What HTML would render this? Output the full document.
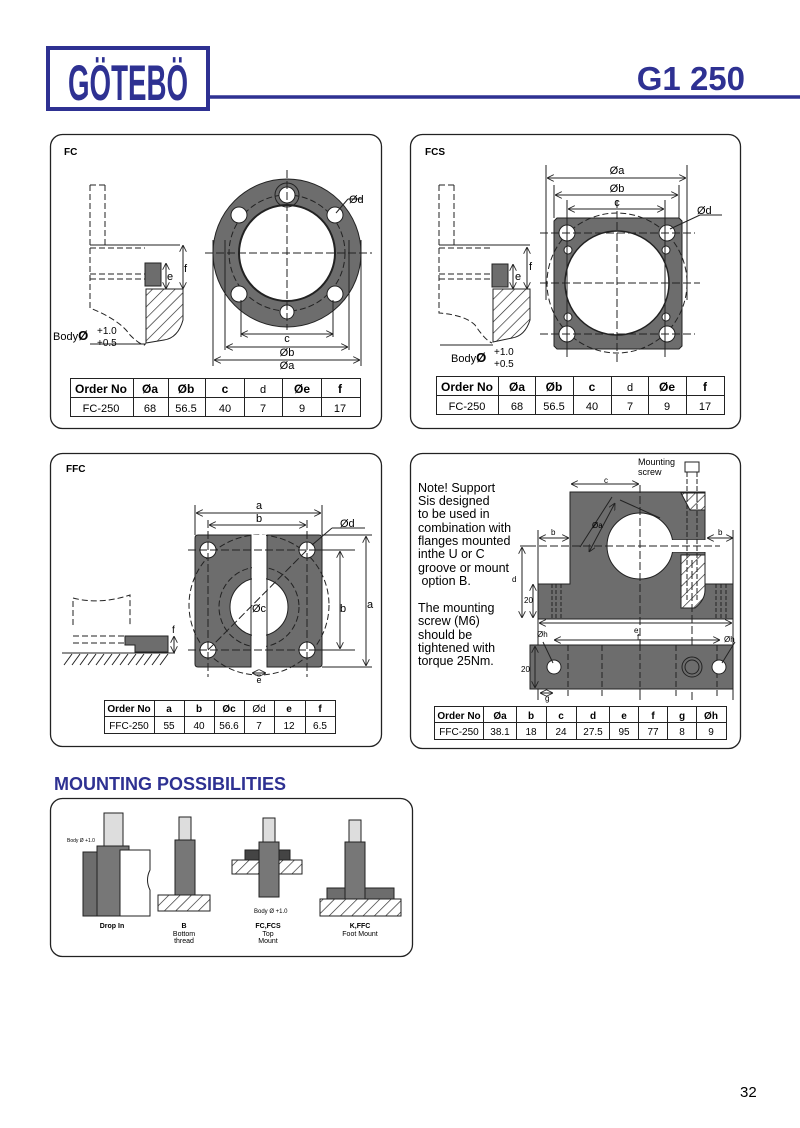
<!DOCTYPE html>
<html><head><meta charset="utf-8"><style>
html,body{margin:0;padding:0;background:#fff}
svg{display:block}
text{font-family:"Liberation Sans",Arial,sans-serif}
</style></head><body>
<svg width="800" height="1128" viewBox="0 0 800 1128" xmlns="http://www.w3.org/2000/svg">
<defs>
<pattern id="h" width="8" height="8" patternUnits="userSpaceOnUse" patternTransform="rotate(45)"><rect width="8" height="8" fill="#fff"/><line x1="0" y1="0" x2="0" y2="8" stroke="#222" stroke-width="1.3"/></pattern>
<marker id="a" viewBox="0 0 10 10" refX="10" refY="5" markerWidth="7" markerHeight="7" orient="auto-start-reverse"><path d="M0,0 L10,5 L0,10" fill="none" stroke="#222" stroke-width="1.2"/></marker>
</defs>
<!-- header -->
<rect x="48" y="48" width="160" height="61" fill="#fff" stroke="#2e3192" stroke-width="4"/>
<text x="128" y="100" text-anchor="middle" font-size="50" font-weight="bold" fill="#2e3192" textLength="120" lengthAdjust="spacingAndGlyphs">GÖTEBÖ</text>
<line x1="208" y1="97" x2="800" y2="97" stroke="#2e3192" stroke-width="3.5"/>
<text x="745" y="90" text-anchor="end" font-size="33" font-weight="bold" fill="#2e3192">G1 250</text>

<g fill="none" stroke="#222" stroke-width="1.3">
<rect x="50.5" y="134.5" width="331" height="294" rx="12"/>
<rect x="410.5" y="134.5" width="330" height="294" rx="12"/>
<rect x="50.5" y="453.5" width="331" height="293" rx="12"/>
<rect x="410.5" y="453.5" width="330" height="295" rx="12"/>
<rect x="50.5" y="798.5" width="362" height="158" rx="12"/>
</g>

<!-- FC -->
<text x="64" y="155" font-size="10" font-weight="bold">FC</text>
<g stroke="#222" stroke-width="1" fill="none" stroke-dasharray="6,3">
<path d="M90,185 V245 M105,185 V245 M90,185 H105"/>
<path d="M90,248 H145 M90,274 H145 M90,279 H145 M90,248 V308 Q120,320 130,335 Q140,345 145,345"/>
</g>
<rect x="145" y="263" width="16" height="23" fill="#6d6d6d" stroke="#222"/>
<path d="M146,289 H183 V320 Q178,338 164,340 L146,343 Z" fill="url(#h)" stroke="#222"/>
<line x1="90" y1="245" x2="180" y2="245" stroke="#222"/>
<line x1="183" y1="245" x2="183" y2="289" stroke="#222" marker-start="url(#a)" marker-end="url(#a)"/>
<text x="184" y="272" font-size="11">f</text>
<line x1="166" y1="263" x2="166" y2="289" stroke="#222" marker-start="url(#a)" marker-end="url(#a)"/>
<text x="167" y="280" font-size="11">e</text>
<line x1="90" y1="344" x2="146" y2="344" stroke="#222"/>
<text x="53" y="340" font-size="11">Body<tspan font-weight="bold" font-size="13">Ø</tspan></text>
<text x="97" y="334" font-size="10">+1.0</text><text x="97" y="346" font-size="10">+0.5</text>

<circle cx="287" cy="253" r="74" fill="#6d6d6d" stroke="#222"/>
<circle cx="287" cy="253" r="48" fill="#fff" stroke="#222" stroke-width="2"/>
<circle cx="287" cy="253" r="58" fill="none" stroke="#222" stroke-dasharray="6,3"/>
<g fill="#fff" stroke="#222">
<circle cx="287" cy="195" r="8"/><circle cx="287" cy="312" r="7"/>
<circle cx="239" cy="215" r="8"/><circle cx="335" cy="215" r="8"/>
<circle cx="239" cy="294" r="8"/><circle cx="335" cy="294" r="8"/>
</g>
<circle cx="287" cy="195" r="12" fill="none" stroke="#222"/>
<g stroke="#222" stroke-dasharray="8,3">
<line x1="205" y1="253" x2="372" y2="253"/><line x1="287" y1="170" x2="287" y2="330"/>
</g>
<g stroke="#222">
<line x1="213" y1="240" x2="213" y2="366"/><line x1="361" y1="240" x2="361" y2="366"/>
<line x1="225" y1="240" x2="225" y2="350"/><line x1="349" y1="240" x2="349" y2="350"/>
<line x1="241" y1="300" x2="241" y2="337"/><line x1="333" y1="300" x2="333" y2="337"/>
<line x1="241" y1="334" x2="333" y2="334" marker-start="url(#a)" marker-end="url(#a)"/>
<line x1="226" y1="347" x2="348" y2="347" marker-start="url(#a)" marker-end="url(#a)"/>
<line x1="214" y1="360" x2="360" y2="360" marker-start="url(#a)" marker-end="url(#a)"/>
<line x1="336" y1="213" x2="348" y2="199"/><line x1="348" y1="199" x2="362" y2="199"/>
</g>
<g font-size="11" text-anchor="middle"><text x="287" y="342">c</text><text x="287" y="356">Øb</text><text x="287" y="369">Øa</text></g>
<text x="349" y="203" font-size="11">Ød</text>

<g font-size="11" text-anchor="middle" stroke="none">
<g stroke="#222" fill="none"><rect x="70.5" y="378.5" width="290" height="38"/><line x1="70" y1="397.5" x2="360" y2="397.5"/>
<path d="M133.5,378V416 M168.5,378V416 M205.5,378V416 M244.5,378V416 M282.5,378V416 M321.5,378V416"/></g>
<g font-weight="bold" font-size="12"><text x="101" y="393">Order No</text><text x="150" y="393">Øa</text><text x="186" y="393">Øb</text><text x="225" y="393">c</text><text x="302" y="393">Øe</text><text x="340" y="393">f</text></g>
<text x="263" y="393">d</text>
<text x="101" y="412">FC-250</text><text x="150" y="412">68</text><text x="186" y="412">56.5</text><text x="225" y="412">40</text><text x="263" y="412">7</text><text x="302" y="412">9</text><text x="340" y="412">17</text>
</g>

<!-- FCS -->
<text x="425" y="155" font-size="10" font-weight="bold">FCS</text>
<g stroke="#222" stroke-width="1" fill="none" stroke-dasharray="6,3">
<path d="M439,185 V245 M454,185 V245 M439,185 H454"/>
<path d="M439,248 H492 M439,274 H492 M439,279 H492 M439,248 V313 Q465,315 475,325 Q485,340 492,343"/>
</g>
<rect x="492" y="264" width="16" height="23" fill="#6d6d6d" stroke="#222"/>
<path d="M493,289 H530 V320 Q525,336 512,338 L493,342 Z" fill="url(#h)" stroke="#222"/>
<line x1="439" y1="245" x2="530" y2="245" stroke="#222"/>
<line x1="527" y1="247" x2="527" y2="289" stroke="#222" marker-start="url(#a)" marker-end="url(#a)"/>
<text x="529" y="270" font-size="11">f</text>
<line x1="513" y1="264" x2="513" y2="289" stroke="#222" marker-start="url(#a)" marker-end="url(#a)"/>
<text x="515" y="280" font-size="11">e</text>
<line x1="440" y1="345" x2="493" y2="345" stroke="#222"/>
<text x="451" y="362" font-size="11">Body<tspan font-weight="bold" font-size="13">Ø</tspan></text>
<text x="494" y="355" font-size="10">+1.0</text><text x="494" y="367" font-size="10">+0.5</text>

<path d="M557,218 H679 L682,221 V346 L679,349 H557 L554,346 V221 Z" fill="#6d6d6d" stroke="#222"/>
<circle cx="617" cy="283" r="70" fill="none" stroke="#222" stroke-dasharray="6,3"/>
<circle cx="617" cy="283" r="52" fill="#fff" stroke="#222" stroke-width="1.5"/>
<g fill="#fff" stroke="#222">
<circle cx="567" cy="233" r="8"/><circle cx="667" cy="233" r="8"/><circle cx="567" cy="334" r="8"/><circle cx="667" cy="334" r="8"/>
<circle cx="568" cy="250" r="4"/><circle cx="666" cy="250" r="4"/><circle cx="568" cy="317" r="4"/><circle cx="666" cy="317" r="4"/>
</g>
<g stroke="#222" stroke-dasharray="8,3">
<line x1="540" y1="283" x2="700" y2="283"/><line x1="617" y1="200" x2="617" y2="365"/>
<line x1="540" y1="233" x2="695" y2="233"/><line x1="540" y1="334" x2="695" y2="334"/>
</g>
<g stroke="#222">
<line x1="546" y1="165" x2="546" y2="300"/><line x1="687" y1="165" x2="687" y2="300"/>
<line x1="554" y1="185" x2="554" y2="218"/><line x1="679" y1="185" x2="679" y2="218"/>
<line x1="567" y1="200" x2="567" y2="357"/><line x1="665" y1="200" x2="665" y2="357"/>
<line x1="547" y1="178" x2="686" y2="178" marker-start="url(#a)" marker-end="url(#a)"/>
<line x1="555" y1="195" x2="678" y2="195" marker-start="url(#a)" marker-end="url(#a)"/>
<line x1="568" y1="209" x2="664" y2="209" marker-start="url(#a)" marker-end="url(#a)"/>
<line x1="670" y1="229" x2="700" y2="215"/><line x1="700" y1="215" x2="722" y2="215"/>
</g>
<g font-size="11" text-anchor="middle"><text x="617" y="174">Øa</text><text x="617" y="192">Øb</text><text x="617" y="206">c</text></g>
<text x="697" y="214" font-size="11">Ød</text>
<g font-size="11" text-anchor="middle">
<g stroke="#222" fill="none"><rect x="436.5" y="376.5" width="288" height="38"/><line x1="436" y1="395.5" x2="724" y2="395.5"/>
<path d="M498.5,376V414 M535.5,376V414 M573.5,376V414 M611.5,376V414 M648.5,376V414 M686.5,376V414"/></g>
<g font-weight="bold" font-size="12"><text x="467" y="391">Order No</text><text x="517" y="391">Øa</text><text x="554" y="391">Øb</text><text x="592" y="391">c</text><text x="667" y="391">Øe</text><text x="705" y="391">f</text></g>
<text x="630" y="391">d</text>
<text x="467" y="410">FC-250</text><text x="517" y="410">68</text><text x="554" y="410">56.5</text><text x="592" y="410">40</text><text x="630" y="410">7</text><text x="667" y="410">9</text><text x="705" y="410">17</text>
</g>

<!-- FFC -->
<text x="66" y="472" font-size="10" font-weight="bold">FFC</text>
<g stroke="#222" stroke-width="1" fill="none" stroke-dasharray="6,3">
<path d="M73,625 V598 Q100,605 130,595 V625"/>
<path d="M73,636 H125 M73,643 H125"/>
</g>
<path d="M125,636 H168 V652 H135 V645 H125 Z" fill="#6d6d6d" stroke="#222"/>
<line x1="62" y1="653" x2="175" y2="653" stroke="#222"/>
<g stroke="#222"><path d="M64,665 l8,-11 M72,665 l8,-11 M80,665 l8,-11 M88,665 l8,-11 M96,665 l8,-11 M104,665 l8,-11 M112,665 l8,-11 M120,665 l8,-11 M128,665 l8,-11 M136,665 l8,-11 M144,665 l8,-11 M152,665 l8,-11 M160,665 l8,-11"/></g>
<line x1="174" y1="636" x2="174" y2="653" stroke="#222" marker-start="url(#a)" marker-end="url(#a)"/>
<text x="172" y="633" font-size="10">f</text>

<path d="M198,535 H251 V667 H198 Q195,667 195,664 V538 Q195,535 198,535 Z M267,535 H319 Q322,535 322,538 V664 Q322,667 319,667 H267 Z" fill="#6d6d6d" stroke="#222"/>
<circle cx="259" cy="605" r="70" fill="none" stroke="#222" stroke-dasharray="6,3"/>
<circle cx="259" cy="607" r="40" fill="none" stroke="#222" stroke-dasharray="6,3"/>
<circle cx="259" cy="607" r="29" fill="#fff" stroke="#222"/>
<rect x="252" y="535" width="14" height="132" fill="#fff"/>
<line x1="251" y1="535" x2="251" y2="667" stroke="#222"/><line x1="267" y1="535" x2="267" y2="667" stroke="#222"/>
<g fill="#fff" stroke="#222">
<circle cx="208" cy="550" r="8"/><circle cx="307" cy="550" r="8"/><circle cx="208" cy="650" r="8"/><circle cx="307" cy="650" r="8"/>
</g>
<g stroke="#222" stroke-dasharray="8,3">
<line x1="188" y1="550" x2="355" y2="550"/><line x1="188" y1="650" x2="355" y2="650"/>
<line x1="208" y1="520" x2="208" y2="677"/><line x1="307" y1="520" x2="307" y2="677"/>
<line x1="208" y1="650" x2="307" y2="550"/>
</g>
<g stroke="#222">
<line x1="195" y1="505" x2="195" y2="535"/><line x1="322" y1="505" x2="322" y2="535"/>
<line x1="196" y1="513" x2="321" y2="513" marker-start="url(#a)" marker-end="url(#a)"/>
<line x1="209" y1="525" x2="306" y2="525" marker-start="url(#a)" marker-end="url(#a)"/>
<line x1="322" y1="535" x2="372" y2="535"/><line x1="322" y1="667" x2="372" y2="667"/>
<line x1="310" y1="550" x2="355" y2="550"/><line x1="310" y1="650" x2="355" y2="650"/>
<line x1="366" y1="536" x2="366" y2="666" marker-start="url(#a)" marker-end="url(#a)"/>
<line x1="340" y1="551" x2="340" y2="649" marker-start="url(#a)" marker-end="url(#a)"/>
<line x1="252" y1="673" x2="266" y2="673" marker-start="url(#a)" marker-end="url(#a)"/>
<line x1="312" y1="545" x2="332" y2="528"/><line x1="332" y1="528" x2="365" y2="528"/>
</g>
<g font-size="11" text-anchor="middle"><text x="259" y="509">a</text><text x="259" y="522">b</text><text x="343" y="612">b</text><text x="370" y="608">a</text><text x="259" y="612">Øc</text><text x="259" y="683" font-size="9">e</text></g>
<text x="340" y="527" font-size="11">Ød</text>
<g font-size="10" text-anchor="middle">
<g stroke="#222" fill="none"><rect x="104.5" y="700.5" width="231" height="33"/><line x1="104" y1="716.5" x2="336" y2="716.5"/>
<path d="M154.5,700V733 M184.5,700V733 M214.5,700V733 M244.5,700V733 M274.5,700V733 M305.5,700V733"/></g>
<g font-weight="bold" font-size="10"><text x="129" y="712">Order No</text><text x="169" y="712">a</text><text x="199" y="712">b</text><text x="229" y="712">Øc</text><text x="289" y="712">e</text><text x="320" y="712">f</text></g>
<text x="259" y="712">Ød</text>
<text x="129" y="729">FFC-250</text><text x="169" y="729">55</text><text x="199" y="729">40</text><text x="229" y="729">56.6</text><text x="259" y="729">7</text><text x="289" y="729">12</text><text x="320" y="729">6.5</text>
</g>

<!-- Support -->
<g font-size="12.5">
<text x="418" y="492">Note! Support</text><text x="418" y="505">Sis designed</text><text x="418" y="518">to be used in</text><text x="418" y="532">combination with</text><text x="418" y="545">flanges mounted</text><text x="418" y="558">inthe U or C</text><text x="418" y="572">groove or mount</text><text x="418" y="585">&#160;option B.</text>
<text x="418" y="612">The mounting</text><text x="418" y="625">screw (M6)</text><text x="418" y="639">should be</text><text x="418" y="652">tightened with</text><text x="418" y="665">torque 25Nm.</text>
</g>
<path d="M570,492 H705 V540 H672 V552 H705 V584 H733 V619 H538 V584 H570 Z" fill="#6d6d6d" stroke="#222"/>
<circle cx="640" cy="546" r="33" fill="#fff" stroke="#222"/>
<rect x="660" y="540" width="46" height="12" fill="#fff"/>
<path d="M681,493 H705 V510 H690 Z M681,555 H705 V590 Q705,600 695,608 H681 Z" fill="url(#h)" stroke="#222"/>
<rect x="685" y="462" width="14" height="10" fill="#fff" stroke="#222"/><path d="M687,472 V497 M697,472 V497 M687,497 V600 M697,497 V600" stroke="#222" stroke-dasharray="5,2"/>
<text x="638" y="465" font-size="9">Mounting</text><text x="638" y="475" font-size="9">screw</text>
<g stroke="#222" stroke-dasharray="8,3"><line x1="528" y1="546" x2="720" y2="546"/><line x1="640" y1="485" x2="640" y2="700"/><line x1="692" y1="560" x2="692" y2="700"/></g>
<g stroke="#222" stroke-dasharray="4,2"><path d="M552,584V619 M556,584V619 M561,584V619 M716,584V619 M721,584V619 M726,584V619"/></g>
<g stroke="#222">
<line x1="571" y1="484" x2="639" y2="484" marker-start="url(#a)" marker-end="url(#a)"/>
<line x1="539" y1="538" x2="569" y2="538" marker-start="url(#a)" marker-end="url(#a)"/>
<line x1="707" y1="538" x2="733" y2="538" marker-start="url(#a)" marker-end="url(#a)"/>
<line x1="538" y1="530" x2="538" y2="700"/><line x1="733" y1="530" x2="733" y2="700"/>
<line x1="520" y1="546" x2="530" y2="546"/>
<line x1="522" y1="547" x2="522" y2="618" marker-start="url(#a)" marker-end="url(#a)"/>
<line x1="533" y1="584" x2="533" y2="618" marker-start="url(#a)" marker-end="url(#a)"/>
<line x1="539" y1="623" x2="732" y2="623" marker-start="url(#a)" marker-end="url(#a)"/>
<line x1="554" y1="640" x2="720" y2="640" marker-start="url(#a)" marker-end="url(#a)"/>
<line x1="589" y1="552" x2="615" y2="503" marker-start="url(#a)" marker-end="url(#a)"/>
<line x1="580" y1="547" x2="612" y2="497"/><line x1="620" y1="500" x2="660" y2="518"/>
</g>
<text x="604" y="483" font-size="8">c</text><text x="551" y="535" font-size="8">b</text><text x="718" y="535" font-size="8">b</text>
<text x="592" y="528" font-size="8">Øa</text><text x="512" y="582" font-size="8">d</text><text x="524" y="603" font-size="8">20</text>
<text x="634" y="633" font-size="8">e</text><text x="637" y="640" font-size="8">f</text>
<rect x="530" y="645" width="203" height="44" fill="#6d6d6d" stroke="#222"/>
<g stroke="#222" stroke-dasharray="6,3"><path d="M568,645V698 M602,645V698 M640,645V698 M676,645V698 M717,645V698"/></g>
<circle cx="554" cy="667" r="7" fill="#fff" stroke="#222"/><circle cx="719" cy="667" r="7" fill="#fff" stroke="#222"/>
<circle cx="692" cy="667" r="10" fill="none" stroke="#222"/><circle cx="692" cy="667" r="7" fill="none" stroke="#222"/>
<g stroke="#222"><line x1="535" y1="646" x2="535" y2="688" marker-start="url(#a)" marker-end="url(#a)"/>
<line x1="540" y1="693" x2="553" y2="693" marker-start="url(#a)" marker-end="url(#a)"/>
<line x1="543" y1="642" x2="553" y2="663"/><line x1="735" y1="642" x2="722" y2="663"/></g>
<text x="537" y="637" font-size="8">Øh</text><text x="724" y="642" font-size="8">Øh</text><text x="521" y="672" font-size="8">20</text><text x="545" y="701" font-size="8">g</text>
<g font-size="10" text-anchor="middle">
<g stroke="#222" fill="none"><rect x="434.5" y="706.5" width="292" height="33"/><line x1="434" y1="722.5" x2="726" y2="722.5"/>
<path d="M483.5,706V739 M516.5,706V739 M546.5,706V739 M576.5,706V739 M609.5,706V739 M638.5,706V739 M667.5,706V739 M696.5,706V739"/></g>
<g font-weight="bold"><text x="459" y="719">Order No</text><text x="500" y="719">Øa</text><text x="531" y="719">b</text><text x="561" y="719">c</text><text x="593" y="719">d</text><text x="624" y="719">e</text><text x="653" y="719">f</text><text x="682" y="719">g</text><text x="711" y="719">Øh</text></g>
<text x="459" y="735">FFC-250</text><text x="500" y="735">38.1</text><text x="531" y="735">18</text><text x="561" y="735">24</text><text x="593" y="735">27.5</text><text x="624" y="735">95</text><text x="653" y="735">77</text><text x="682" y="735">8</text><text x="711" y="735">9</text>
</g>

<!-- Mounting -->
<text x="54" y="790" font-size="18" font-weight="bold" fill="#2e3192">MOUNTING POSSIBILITIES</text>
<g stroke="#222">
<path d="M83,852 H98 V916 H83 Z" fill="#6d6d6d"/>
<rect x="97" y="846" width="32" height="70" fill="#777"/>
<rect x="104" y="813" width="19" height="33" fill="#ddd"/>
<path d="M120,850 H150 V870 Q145,880 150,890 V916 H120 Z" fill="#fff"/>
<rect x="175" y="840" width="20" height="55" fill="#777"/><rect x="179" y="817" width="12" height="23" fill="#ddd"/>
<rect x="158" y="895" width="52" height="16" fill="url(#h)"/>
<rect x="245" y="850" width="45" height="10" fill="#444"/>
<rect x="232" y="860" width="70" height="14" fill="url(#h)"/>
<rect x="259" y="842" width="20" height="55" fill="#777"/><rect x="263" y="818" width="12" height="24" fill="#ddd"/>
<rect x="327" y="888" width="67" height="12" fill="#6d6d6d"/>
<rect x="320" y="899" width="81" height="17" fill="url(#h)"/>
<rect x="345" y="842" width="20" height="57" fill="#777"/><rect x="349" y="820" width="12" height="22" fill="#ddd"/>
</g>
<text x="67" y="842" font-size="5">Body Ø +1.0</text>
<text x="254" y="913" font-size="6">Body Ø +1.0</text>
<g font-size="7" text-anchor="middle">
<text x="112" y="928" font-weight="bold">Drop In</text>
<text x="184" y="928" font-weight="bold">B</text><text x="184" y="936">Bottom</text><text x="184" y="943">thread</text>
<text x="268" y="928" font-weight="bold">FC,FCS</text><text x="268" y="936">Top</text><text x="268" y="943">Mount</text>
<text x="360" y="928" font-weight="bold">K,FFC</text><text x="360" y="936">Foot Mount</text>
</g>
<text x="740" y="1097" font-size="15">32</text>
</svg>
</body></html>
